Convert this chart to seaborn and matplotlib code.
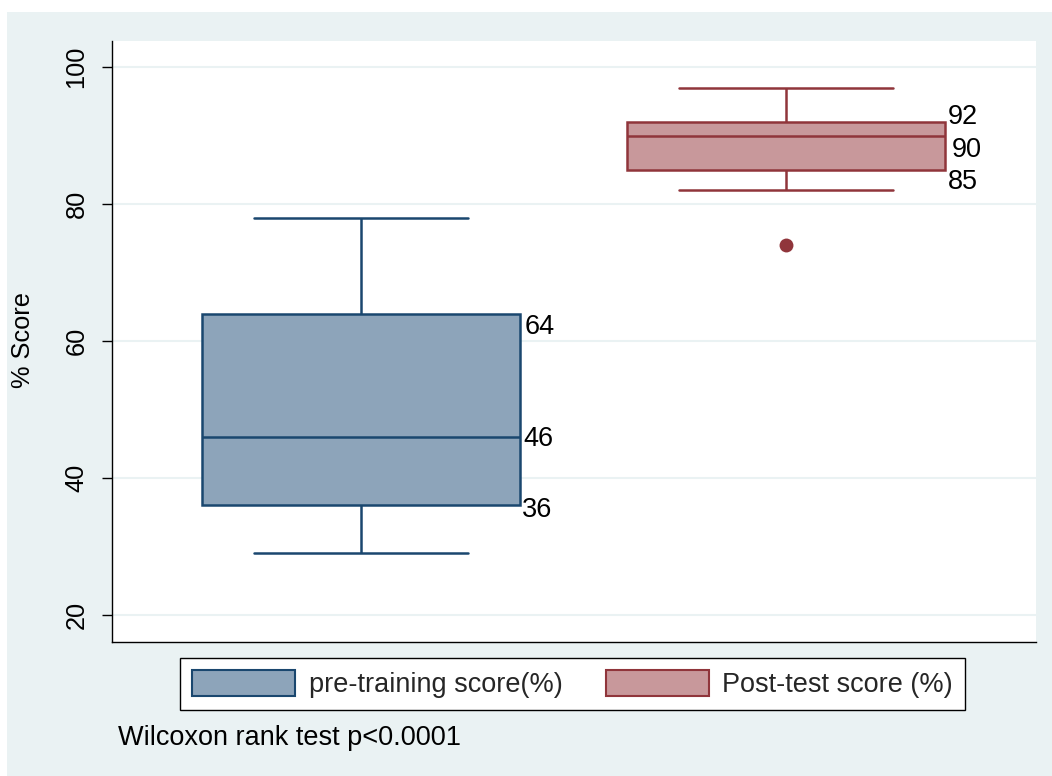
import numpy as np
import pandas as pd
import matplotlib
matplotlib.use("Agg")
import matplotlib.pyplot as plt
from matplotlib.patches import Patch, Rectangle
import seaborn as sns

# Score data
groups = ["pre-training score(%)", "Post-test score (%)"]
pre_scores = [29, 36, 46, 64, 78]
post_scores = [82, 85, 90, 92, 97]
post_outliers = [74]
y_ticks = [20, 40, 60, 80, 100]
y_label = "% Score"
note = "Wilcoxon rank test p<0.0001"

# Styling
fills = ["#8DA4BA", "#C8989B"]
edges = ["#1A476F", "#90353B"]
panel_bg = "#EAF2F3"
fs_big = 19.5
fs_axis = 18.3
box_width = 0.75
W, H = 1052, 776

sns.set_theme(style="white")
plt.rcParams["font.family"] = ["Liberation Sans", "DejaVu Sans"]

df = pd.DataFrame({
    "group": [groups[0]] * len(pre_scores) + [groups[1]] * len(post_scores),
    "score": pre_scores + post_scores,
})

fig = plt.figure(figsize=(W / 100, H / 100), dpi=100)
fig.patch.set_facecolor("white")
fig.add_artist(Rectangle((7 / W, 0), 1, 1 - 12 / H, transform=fig.transFigure,
                         facecolor=panel_bg, edgecolor="none", zorder=-10))

ax = fig.add_axes([112 / W, 1 - 642 / H, 924 / W, 601 / H])
ax.set_facecolor("white")

for i, g in enumerate(groups):
    sns.boxplot(data=df[df["group"] == g], x="group", y="score", order=groups,
                color=fills[i], linecolor=edges[i], linewidth=1.8,
                width=box_width, saturation=1, whis=1.5, showfliers=False,
                capwidths=box_width * 0.67, ax=ax)

sns.stripplot(x=[groups[1]] * len(post_outliers), y=post_outliers, order=groups,
              jitter=False, color=edges[1], size=10, linewidth=0, ax=ax)

# Quartile labels next to each box
offsets = [
    [(3.2, -9.8), (2.0, -1.8), (1.2, -3.2)],
    [(2.0, 3.4), (4.6, -10.4), (2.0, -9.0)],
]
for i, scores in enumerate([pre_scores, post_scores]):
    q1, med, q3 = np.percentile(scores, [25, 50, 75])
    for val, (dx, dy) in zip((q3, med, q1), offsets[i]):
        ax.annotate(f"{val:g}", xy=(i + box_width / 2, val), xytext=(dx, dy),
                    textcoords="offset points", ha="left", va="center",
                    fontsize=fs_big, color="black")

ax.set_xlim(-0.586, 1.588)
ax.set_ylim(16.06, 103.8)
ax.set_yticks(y_ticks)
ax.set_xlabel("")
ax.set_ylabel(y_label, fontsize=fs_axis, color="black")
ax.yaxis.set_label_coords(-0.083, 0.502)

ax.tick_params(axis="y", left=True, length=7, width=1, color="black",
               labelsize=fs_axis, labelcolor="black", labelrotation=90, pad=10)
for t in ax.get_yticklabels():
    t.set_va("center")
ax.tick_params(axis="x", bottom=False, labelbottom=False)

ax.yaxis.grid(True, color=panel_bg, linewidth=1.5)
ax.xaxis.grid(False)
ax.set_axisbelow(True)

for side in ("top", "right"):
    ax.spines[side].set_visible(False)
for side in ("left", "bottom"):
    ax.spines[side].set_color("black")
    ax.spines[side].set_linewidth(1.0)

handles = [Patch(facecolor=fills[i], edgecolor=edges[i], linewidth=1.5, label=groups[i])
           for i in range(len(groups))]
leg = fig.legend(handles=handles, loc="upper left",
                 bbox_to_anchor=(180 / W, 1 - 658 / H), ncol=2, frameon=True,
                 fancybox=False, edgecolor="black", facecolor="white", framealpha=1,
                 fontsize=fs_big, handlelength=3.8, handleheight=1.07,
                 handletextpad=0.5, columnspacing=1.6, borderpad=0.45,
                 borderaxespad=0)
leg.get_frame().set_linewidth(1.0)

fig.text(118 / W, 1 - 738 / H, note, ha="left", va="center", fontsize=fs_big,
         color="black")

fig.savefig("out.png", dpi=100, facecolor=fig.get_facecolor())
